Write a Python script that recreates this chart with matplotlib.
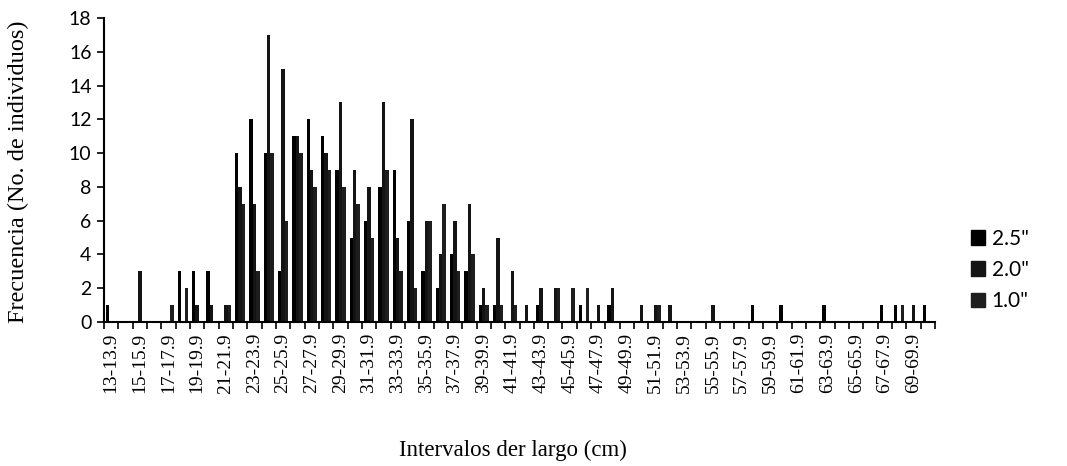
import numpy as np
import matplotlib
matplotlib.use("Agg")
import matplotlib.pyplot as plt
from matplotlib.patches import Patch

# Interval start values 13 .. 70
starts = list(range(13, 71))
categories = [f"{s}-{s}.9" for s in starts]

series_names = ['2.5"', '2.0"', '1.0"']

# values per interval (13 .. 70)
s25 = [1, 0, 0, 0, 0, 3, 3, 3, 0, 10, 12, 10, 3, 11, 12, 11, 9, 5, 6, 8,
       9, 6, 3, 2, 4, 3, 1, 1, 0, 0, 1, 0, 0, 1, 0, 1, 0, 0, 0, 0,
       0, 0, 0, 0, 0, 1, 0, 1, 0, 0, 1, 0, 0, 0, 1, 1, 0, 1]
s20 = [0, 0, 3, 0, 0, 0, 1, 1, 1, 8, 7, 17, 15, 11, 9, 10, 13, 9, 8, 13,
       5, 12, 6, 4, 6, 7, 2, 5, 3, 1, 2, 2, 0, 0, 1, 2, 0, 1, 1, 1,
       0, 0, 1, 0, 0, 0, 0, 0, 0, 0, 0, 0, 0, 0, 0, 0, 1, 0]
s10 = [0, 0, 0, 0, 1, 2, 0, 0, 1, 7, 3, 10, 6, 10, 8, 9, 8, 7, 5, 9,
       3, 2, 6, 7, 3, 4, 1, 1, 1, 0, 0, 2, 2, 2, 0, 0, 0, 0, 1, 0,
       0, 0, 0, 0, 0, 0, 0, 0, 0, 0, 0, 0, 0, 0, 0, 1, 0, 0]

serif = ['Liberation Serif', 'DejaVu Serif']
sans = ['Lato', 'DejaVu Sans']

plt.rcParams['hatch.color'] = '#6a6a6a'
plt.rcParams['hatch.linewidth'] = 0.5

fig = plt.figure(figsize=(10.67, 4.66), dpi=100)
ax = fig.add_axes([104/1067, 1-322/466, (935-104)/1067, (322-18)/466])

x = np.arange(len(categories))
w = 0.24
styles = [
    dict(color='#000000', hatch=None),
    dict(color='#141414', hatch='....'),
    dict(color='#1e1e1e', hatch='xxxx'),
]
for i, vals in enumerate([s25, s20, s10]):
    ax.bar(x + (i - 1) * w, vals, width=w, color=styles[i]['color'],
           hatch=styles[i]['hatch'], edgecolor=styles[i]['color'], linewidth=0)

ax.set_xlim(-0.5, len(categories) - 0.5)
ax.set_ylim(0, 18)
ax.set_yticks(np.arange(0, 19, 2))
ax.set_yticklabels([str(v) for v in range(0, 19, 2)], fontfamily=sans, fontsize=14)

ax.set_xticks(np.arange(-0.5, len(categories), 1))
ax.set_xticklabels([])
ax.tick_params(axis='x', which='major', direction='out', length=5, width=1.2)
ax.set_xticks(x[::2], minor=True)
ax.set_xticklabels(categories[::2], minor=True, rotation=90, fontfamily=serif, fontsize=14)
ax.tick_params(axis='x', which='minor', length=0, pad=8)
ax.tick_params(axis='y', direction='out', length=5, width=1.2, pad=4)

for s in ['top', 'right']:
    ax.spines[s].set_visible(False)
for s in ['left', 'bottom']:
    ax.spines[s].set_linewidth(1.5)

fig.text(18/1067, 1-172/466, 'Frecuencia (No. de individuos)', rotation=90,
         ha='center', va='center', fontfamily=serif, fontsize=17.5)
fig.text(513/1067, 1-450/466, 'Intervalos der largo (cm)',
         ha='center', va='center', fontfamily=serif, fontsize=16.5)

handles = [Patch(facecolor=styles[i]['color'], hatch=styles[i]['hatch'],
                 edgecolor=styles[i]['color'], label=series_names[i]) for i in range(3)]
fig.legend(handles=handles, loc='center left', bbox_to_anchor=(952/1067, 1-270/466),
           frameon=False, prop={'family': sans, 'size': 15}, handlelength=0.7,
           handleheight=0.7, handletextpad=0.3, labelspacing=0.55)

fig.savefig('out.png', dpi=100)
